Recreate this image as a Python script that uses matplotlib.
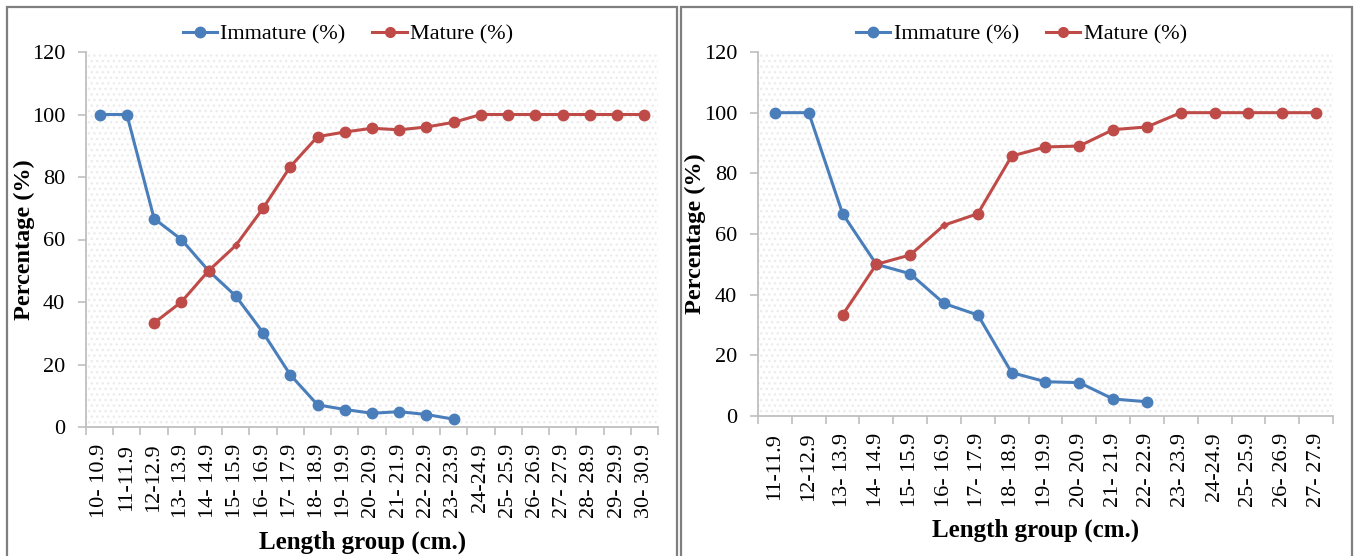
import numpy as np
import matplotlib
matplotlib.use('Agg')
import matplotlib.pyplot as plt
from matplotlib.patches import Rectangle

plt.rcParams['font.family'] = ['Liberation Serif', 'DejaVu Serif']

# left panel data
groups_a = ['10- 10.9', '11-11.9', '12-12.9', '13- 13.9', '14- 14.9', '15- 15.9', '16- 16.9',
            '17- 17.9', '18- 18.9', '19- 19.9', '20- 20.9', '21- 21.9', '22- 22.9', '23- 23.9',
            '24-24.9', '25- 25.9', '26- 26.9', '27- 27.9', '28- 28.9', '29- 29.9', '30- 30.9']
immature_a = [100, 100, 66.7, 60, 50, 41.9, 30.2, 16.7, 7.1, 5.6, 4.4, 4.9, 4.0, 2.5,
              None, None, None, None, None, None, None]
mature_a = [None, None, 33.3, 40, 50, 58.1, 70, 83.3, 92.9, 94.4, 95.6, 95.1, 96.0, 97.5,
            100, 100, 100, 100, 100, 100, 100]

# right panel data
groups_b = ['11-11.9', '12-12.9', '13- 13.9', '14- 14.9', '15- 15.9', '16- 16.9', '17- 17.9',
            '18- 18.9', '19- 19.9', '20- 20.9', '21- 21.9', '22- 22.9', '23- 23.9', '24-24.9',
            '25- 25.9', '26- 26.9', '27- 27.9']
immature_b = [100, 100, 66.7, 50, 46.9, 37.1, 33.3, 14.3, 11.3, 11.0, 5.6, 4.7,
              None, None, None, None, None]
mature_b = [None, None, 33.3, 50, 53.1, 62.9, 66.7, 85.7, 88.7, 89.0, 94.4, 95.3,
            100, 100, 100, 100, 100]

# points drawn with a tiny marker in the original
small_a = 5
small_b = 5

BLUE = '#4A7EBB'
RED = '#BE4B48'
GRID = '#BFBFBF'


def to_arr(vals):
    return np.array([np.nan if v is None else v for v in vals], dtype=float)


def draw_panel(ax, groups, immature, mature, small_idx):
    n = len(groups)
    x = np.arange(n)
    imm = to_arr(immature)
    mat = to_arr(mature)

    # faint dotted plot area
    ax.add_patch(Rectangle((0, 0), 1, 1, transform=ax.transAxes, facecolor='white',
                           edgecolor='#ececec', hatch='...', lw=0, zorder=0))

    ax.plot(x, imm, color=BLUE, lw=2.2, marker='o', ms=7.5, label='Immature (%)', zorder=3)
    keep = [i for i in range(n) if i != small_idx]
    ax.plot(x, mat, color=RED, lw=2.2, zorder=3, label='_line')
    ax.plot(x[keep], mat[keep], color=RED, lw=0, marker='o', ms=7.5, zorder=4)
    ax.plot([x[small_idx]], [mat[small_idx]], color=RED, lw=0, marker='D', ms=3.5, zorder=4)
    # legend handle
    ax.plot([], [], color=RED, lw=2.2, marker='o', ms=7, label='Mature (%)')

    ax.set_xlim(-0.5, n - 0.5)
    ax.set_ylim(0, 120)
    ax.set_yticks(range(0, 121, 20))
    ax.set_xticks(x)
    ax.set_xticklabels(groups, rotation=90, fontsize=16)
    ax.set_xticks(np.arange(n + 1) - 0.5, minor=True)
    ax.tick_params(axis='x', which='major', length=0, pad=12)
    ax.tick_params(axis='x', which='minor', length=6, width=1.2, color=GRID, direction='out')
    ax.tick_params(axis='y', length=6, width=1.2, color=GRID, labelsize=16, pad=9)

    for s in ['top', 'right']:
        ax.spines[s].set_visible(False)
    for s in ['left', 'bottom']:
        ax.spines[s].set_color(GRID)
        ax.spines[s].set_linewidth(1.3)

    ax.set_ylabel('Percentage (%)', fontsize=17.5, fontweight='bold')
    ax.set_xlabel('Length group (cm.)', fontsize=18, fontweight='bold')


fig = plt.figure(figsize=(13.54, 5.56), dpi=100)
W, H = 1354, 556
ax1 = fig.add_axes([86 / W, 1 - 427 / H, 572 / W, 375 / H])
ax2 = fig.add_axes([758 / W, 1 - 416 / H, 575 / W, 364 / H])

draw_panel(ax1, groups_a, immature_a, mature_a, small_a)
draw_panel(ax2, groups_b, immature_b, mature_b, small_b)

ax1.xaxis.set_label_coords(0.483, -0.275)
ax2.xaxis.set_label_coords(0.483, -0.283)
ax1.yaxis.set_label_coords(-0.09, 0.5)
ax2.yaxis.set_label_coords(-0.09, 0.5)

for ax in (ax1, ax2):
    ax.legend(loc='center', bbox_to_anchor=(0.458, 1.048), ncol=2, frameon=False, fontsize=16,
              handlelength=1.55, handletextpad=0.15, columnspacing=1.2, borderaxespad=0)

# panel borders
fig.add_artist(Rectangle((7 / W, -0.1), 670 / W, 1.1 - 7 / H, transform=fig.transFigure,
                         fill=False, edgecolor='#7f7f7f', lw=1.6))
fig.add_artist(Rectangle((681 / W, -0.1), 671 / W, 1.1 - 7 / H, transform=fig.transFigure,
                         fill=False, edgecolor='#7f7f7f', lw=1.6))

fig.savefig('out.png', dpi=100)
